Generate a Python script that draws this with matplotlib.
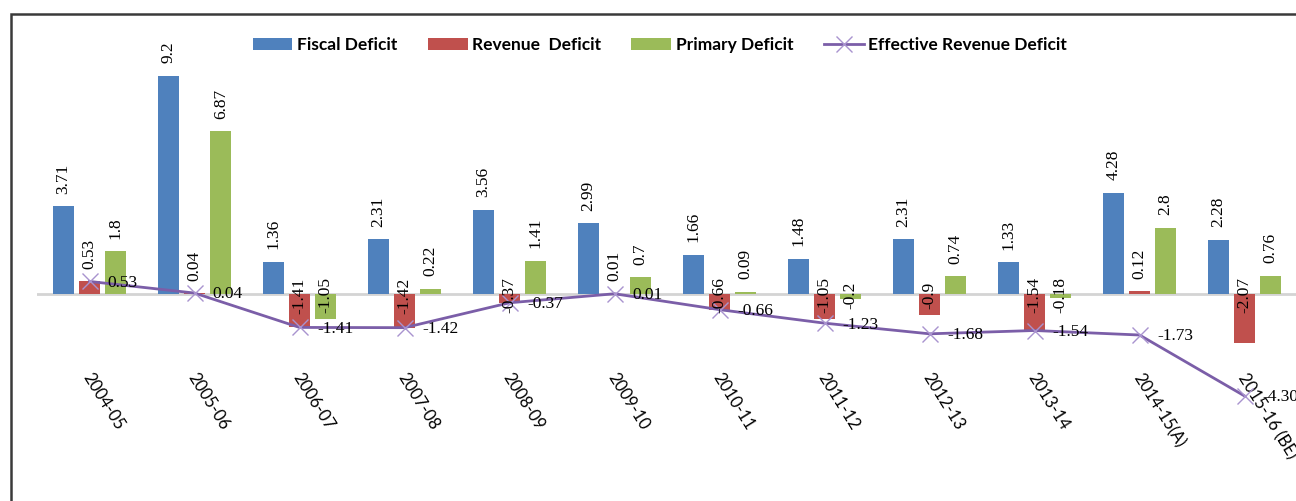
import numpy as np
import matplotlib
matplotlib.use("Agg")
import matplotlib.pyplot as plt
from matplotlib.patches import Rectangle
from matplotlib.transforms import ScaledTranslation

years = ["2004-05", "2005-06", "2006-07", "2007-08", "2008-09", "2009-10",
         "2010-11", "2011-12", "2012-13", "2013-14", "2014-15(A)", "2015-16 (BE)"]
fiscal = [3.71, 9.2, 1.36, 2.31, 3.56, 2.99, 1.66, 1.48, 2.31, 1.33, 4.28, 2.28]
revenue = [0.53, 0.04, -1.41, -1.42, -0.37, 0.01, -0.66, -1.05, -0.9, -1.54, 0.12, -2.07]
primary = [1.8, 6.87, -1.05, 0.22, 1.41, 0.7, 0.09, -0.2, 0.74, -0.18, 2.8, 0.76]
effective = [0.53, 0.04, -1.41, -1.42, -0.37, 0.01, -0.66, -1.23, -1.68, -1.54, -1.73, -4.30]
effective_txt = ["0.53", "0.04", "-1.41", "-1.42", "-0.37", "0.01", "-0.66", "-1.23",
                 "-1.68", "-1.54", "-1.73", "-4.30"]

c_blue, c_red, c_green, c_purple = "#4F81BD", "#C0504D", "#9BBB59", "#7B5EA8"
serif = "Liberation Serif"
sans = "Lato"

fig = plt.figure(figsize=(12.96, 5.01), dpi=100)
ax = fig.add_axes([37 / 1296, 0.2665, 1260 / 1296, 0.6198])

x = np.arange(len(years))
w = 0.2
b1 = ax.bar(x - 0.25, fiscal, w, color=c_blue, label="Fiscal Deficit", zorder=3)
b2 = ax.bar(x, revenue, w, color=c_red, label="Revenue  Deficit", zorder=3)
b3 = ax.bar(x + 0.25, primary, w, color=c_green, label="Primary Deficit", zorder=3)
ax.axhline(0, color="#d4d4d4", lw=2, zorder=2)

ln, = ax.plot(x, effective, color=c_purple, lw=2, marker="x", ms=11, mew=1,
              mec="#a993cf", label="Effective Revenue Deficit", zorder=4, clip_on=False)

# rotated value labels on bars
for bars, vals in [(b1, fiscal), (b2, revenue), (b3, primary)]:
    for r, v in zip(bars, vals):
        cx = r.get_x() + r.get_width() / 2
        if v >= 0:
            ax.annotate(f"{v:g}", (cx, v), xytext=(0, 9), textcoords="offset points",
                        rotation=90, ha="center", va="bottom", fontsize=12.5,
                        family=serif, zorder=5)
        else:
            ax.annotate(f"{v:g}", (cx, 0), xytext=(0, -1), textcoords="offset points",
                        rotation=90, ha="center", va="center", fontsize=12.5,
                        family=serif, zorder=5)

# labels on the line
for xi, v, t in zip(x, effective, effective_txt):
    ax.annotate(t, (xi, v), xytext=(13, -1), textcoords="offset points",
                ha="left", va="center", fontsize=12.5, family=serif, zorder=6,
                annotation_clip=False)

ax.set_xlim(-0.5, 11.5)
ax.set_ylim(-3.1, 10)
ax.set_yticks([])
for s in ax.spines.values():
    s.set_visible(False)
ax.set_xticks(x, labels=years, rotation=-58, ha="left", va="top",
              rotation_mode="anchor", fontsize=12, family=sans)
ax.tick_params(axis="x", length=0, pad=2)
for lab in ax.get_xticklabels():
    lab.set_transform(lab.get_transform() + ScaledTranslation(4 / 100, 0, fig.dpi_scale_trans))

fig.legend(handles=[b1, b2, b3, ln], loc="center", bbox_to_anchor=(0.509, 0.91),
           ncol=4, frameon=False, prop={"family": sans, "weight": "bold", "size": 12.5},
           handlelength=2.3, handletextpad=0.25, columnspacing=1.75)

fig.patches.append(Rectangle((11 / 1296, -0.1), 1.2, 0.1 + (501 - 14) / 501,
                             transform=fig.transFigure, fill=False,
                             edgecolor="#3a3a3a", lw=1.8))

fig.savefig("out.png", dpi=100)
